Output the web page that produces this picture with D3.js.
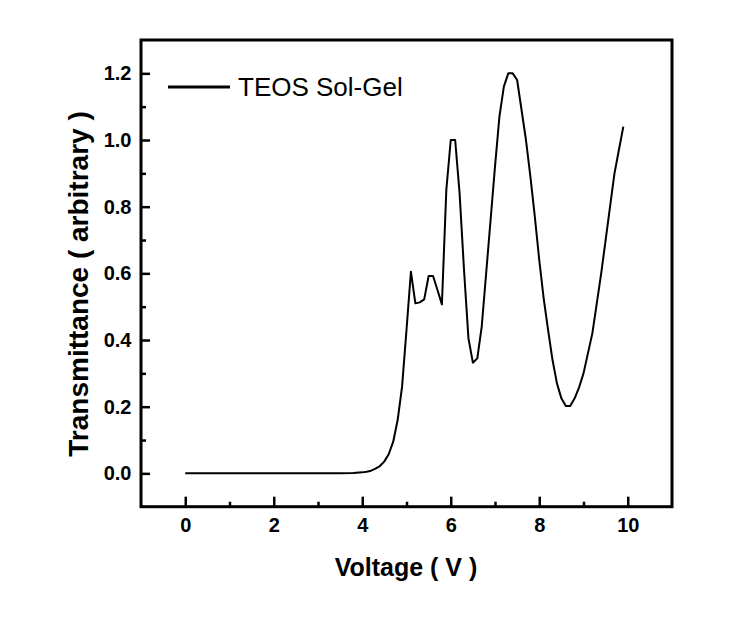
<!DOCTYPE html>
<html>
<head>
<meta charset="utf-8">
<script src="https://cdn.jsdelivr.net/npm/d3@7"></script>
<style>
  html, body { margin: 0; padding: 0; background: #fff; }
  svg { display: block; font-family: "Liberation Sans", Arial, sans-serif; }
</style>
</head>
<body>
<svg id="chart" width="754" height="624"></svg>
<script>
// ---- data ----
const voltage = [0, 0.5, 1, 1.5, 2, 2.5, 3, 3.5, 3.8, 4.0, 4.1, 4.2, 4.3, 4.4, 4.5, 4.6, 4.7, 4.8, 4.9,
  5.0, 5.1, 5.2, 5.3, 5.4, 5.5, 5.6, 5.7, 5.8, 5.9, 6.0, 6.1, 6.2, 6.3, 6.4, 6.5, 6.6, 6.7, 6.8, 6.9,
  7.0, 7.1, 7.2, 7.3, 7.4, 7.5, 7.6, 7.7, 7.8, 7.9, 8.0, 8.1, 8.2, 8.3, 8.4, 8.5, 8.6, 8.7, 8.8, 8.9,
  9.0, 9.1, 9.2, 9.3, 9.4, 9.5, 9.6, 9.7, 9.8, 9.9];
const transmittance = [0, 0, 0, 0, 0, 0, 0, 0.0005, 0.001, 0.003, 0.005, 0.008, 0.014, 0.022, 0.036, 0.058, 0.095, 0.16, 0.26,
  0.43, 0.605, 0.51, 0.513, 0.522, 0.592, 0.592, 0.55, 0.507, 0.85, 1.0, 1.0, 0.84, 0.61, 0.405, 0.332, 0.345, 0.44, 0.6, 0.76,
  0.92, 1.07, 1.16, 1.2, 1.2, 1.18, 1.09, 1.0, 0.89, 0.77, 0.64, 0.525, 0.43, 0.34, 0.27, 0.225, 0.202, 0.202, 0.225, 0.258,
  0.3, 0.36, 0.42, 0.51, 0.6, 0.7, 0.8, 0.9, 0.97, 1.04];
const seriesName = "TEOS Sol-Gel";
const xMajorTicks = [0, 2, 4, 6, 8, 10];
const xMinorTicks = [1, 3, 5, 7, 9];
const yMajorTicks = [0.0, 0.2, 0.4, 0.6, 0.8, 1.0, 1.2];
const yMinorTicks = [0.1, 0.3, 0.5, 0.7, 0.9, 1.1];
const xTitle = "Voltage ( V )";
const yTitle = "Transmittance ( arbitrary )";

// ---- layout ----
const svg = d3.select("#chart");
const L = 141, R = 672, T = 40, B = 506.7;

const x = d3.scaleLinear().domain([-1, 11]).range([L, R]);
const y = d3.scaleLinear().domain([-0.1, 1.3]).range([B, T]);

// major x axis
const gx = svg.append("g").attr("transform", `translate(0,${B})`)
  .call(d3.axisBottom(x).tickValues(xMajorTicks).tickSize(-10).tickPadding(11).tickFormat(d3.format("d")));
gx.select(".domain").remove();
gx.selectAll("line").attr("stroke", "#000").attr("stroke-width", 2.5);
gx.selectAll("text").attr("font-size", 20).attr("font-weight", "bold").attr("fill", "#000");

const gxm = svg.append("g").attr("transform", `translate(0,${B})`)
  .call(d3.axisBottom(x).tickValues(xMinorTicks).tickSize(-5).tickFormat(""));
gxm.select(".domain").remove();
gxm.selectAll("line").attr("stroke", "#000").attr("stroke-width", 2.5);

// major y axis
const gy = svg.append("g").attr("transform", `translate(${L},0)`)
  .call(d3.axisLeft(y).tickValues(yMajorTicks).tickSize(-9).tickPadding(9.5).tickFormat(d3.format(".1f")));
gy.select(".domain").remove();
gy.selectAll("line").attr("stroke", "#000").attr("stroke-width", 2.5);
gy.selectAll("text").attr("font-size", 20).attr("font-weight", "bold").attr("fill", "#000");

const gym = svg.append("g").attr("transform", `translate(${L},0)`)
  .call(d3.axisLeft(y).tickValues(yMinorTicks).tickSize(-5).tickFormat(""));
gym.select(".domain").remove();
gym.selectAll("line").attr("stroke", "#000").attr("stroke-width", 2.5);

// frame
svg.append("rect")
  .attr("x", L).attr("y", T).attr("width", R - L).attr("height", B - T)
  .attr("fill", "none").attr("stroke", "#000").attr("stroke-width", 3);

// curve
const pts = voltage.map((v, i) => [v, transmittance[i]]);
svg.append("path")
  .datum(pts)
  .attr("fill", "none")
  .attr("stroke", "#000")
  .attr("stroke-width", 2)
  .attr("stroke-linejoin", "round")
  .attr("d", d3.line().x(d => x(d[0])).y(d => y(d[1])).curve(d3.curveLinear));

// legend
svg.append("line")
  .attr("x1", 168).attr("x2", 230).attr("y1", 87).attr("y2", 87)
  .attr("stroke", "#000").attr("stroke-width", 3);
svg.append("text")
  .attr("x", 238).attr("y", 95.5)
  .attr("font-size", 26).attr("fill", "#000")
  .text(seriesName);

// axis titles
svg.append("text")
  .attr("x", (L + R) / 2 - 0.5).attr("y", 576)
  .attr("text-anchor", "middle")
  .attr("font-size", 25).attr("font-weight", "bold").attr("fill", "#000")
  .text(xTitle);

svg.append("text")
  .attr("transform", `translate(88,${284}) rotate(-90)`)
  .attr("text-anchor", "middle")
  .attr("font-size", 28).attr("font-weight", "bold").attr("fill", "#000")
  .text(yTitle);
</script>
</body>
</html>
